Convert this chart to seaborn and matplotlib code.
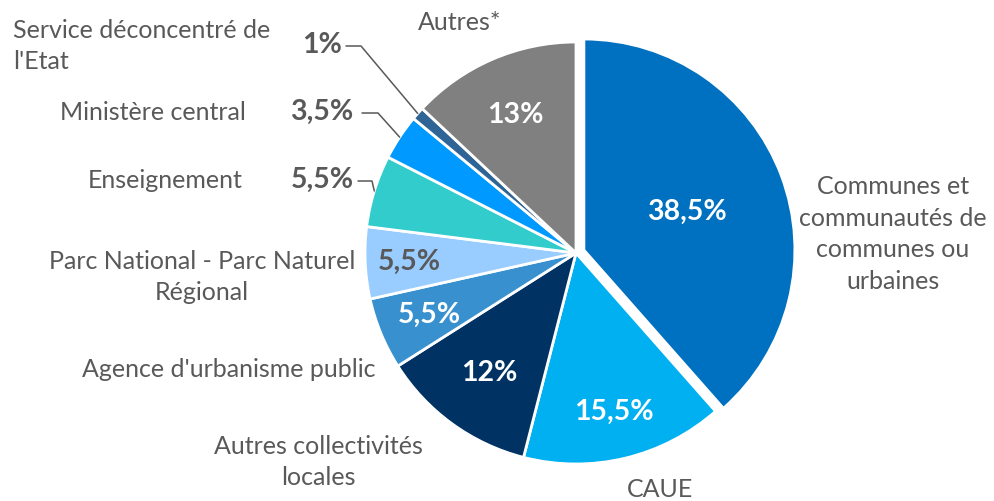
import numpy as np
import matplotlib
matplotlib.use("Agg")
import matplotlib.pyplot as plt
import seaborn as sns

# Data (clockwise from 12 o'clock)
categories = ["Communes et\ncommunautés de\ncommunes ou\nurbaines", "CAUE",
              "Autres collectivités\nlocales", "Agence d'urbanisme public",
              "Parc National - Parc Naturel\nRégional", "Enseignement",
              "Ministère central", "Service déconcentré de\nl'Etat", "Autres*"]
values = [38.5, 15.5, 12, 5.5, 5.5, 5.5, 3.5, 1, 13]
pct_labels = ["38,5%", "15,5%", "12%", "5,5%", "5,5%", "5,5%", "3,5%", "1%", "13%"]
colors = ["#0070C0", "#00B0F0", "#003264", "#3891CE", "#99CCFF",
          "#33CCCC", "#0099FF", "#2F6496", "#808080"]

sns.set_theme(style="white")
plt.rcParams['font.family'] = ['Lato', 'DejaVu Sans']
GREY = "#595959"

W, H = 994, 502
CX, CY, R = 576, 254, 211  # pie centre / radius in pixels


def px(x, y):
    return (x - CX) / R, (CY - y) / R


fig = plt.figure(figsize=(W / 100, H / 100), dpi=100)
ax = fig.add_axes([0, 0, 1, 1])
explode = [0.04] + [0] * (len(values) - 1)
wedges, _ = ax.pie(values, colors=colors, startangle=90, counterclock=False,
                   explode=explode, radius=1,
                   wedgeprops=dict(edgecolor="white", linewidth=2))
ax.set_xlim(-CX / R, (W - CX) / R)
ax.set_ylim(-(H - CY) / R, CY / R)
ax.set_aspect("equal")
ax.axis("off")

# percentage labels inside wedges
inside = {0: (0.52, "white"), 1: (0.77, "white"), 2: (0.70, "white"),
          3: (0.75, "white"), 4: (0.79, GREY), 8: (0.72, "white")}
for i, (r, c) in inside.items():
    w = wedges[i]
    ang = np.deg2rad((w.theta1 + w.theta2) / 2)
    cx, cy = w.center
    ax.text(cx + r * np.cos(ang), cy + r * np.sin(ang), pct_labels[i],
            ha="center", va="center", color=c, fontsize=20.5, fontweight="bold")

# outside percentage labels with leader lines
outside = {7: (322, 45, 346, 361), 6: (322, 112, 362, 378), 5: (322, 180, 358, 372)}
for i, (tx, ty, x0, x1) in outside.items():
    w = wedges[i]
    ang = np.deg2rad((w.theta1 + w.theta2) / 2)
    ex, ey = np.cos(ang), np.sin(ang)
    ax.text(*px(tx, ty), pct_labels[i], ha="center", va="center",
            color=GREY, fontsize=20.5, fontweight="bold")
    lx0, ly = px(x0, ty + 2)
    lx1, _ = px(x1, ty + 2)
    ax.plot([lx0, lx1, ex], [ly, ly, ey], color=GREY, lw=1.1)

# category labels
cat_pos = {0: (893, 234, "center"), 1: (660, 490, "center"), 2: (318, 462, "center"),
           3: (376, 370, "right"), 4: (202, 277, "center"), 5: (243, 180, "right"),
           6: (246, 112, "right"), 7: (13, 46, "left"), 8: (460, 22, "center")}
for i, (x, y, ha) in cat_pos.items():
    ax.text(*px(x, y), categories[i], ha=ha, va="center", ma=ha,
            color=GREY, fontsize=18, linespacing=1.45)

fig.savefig("out.png", dpi=100)
